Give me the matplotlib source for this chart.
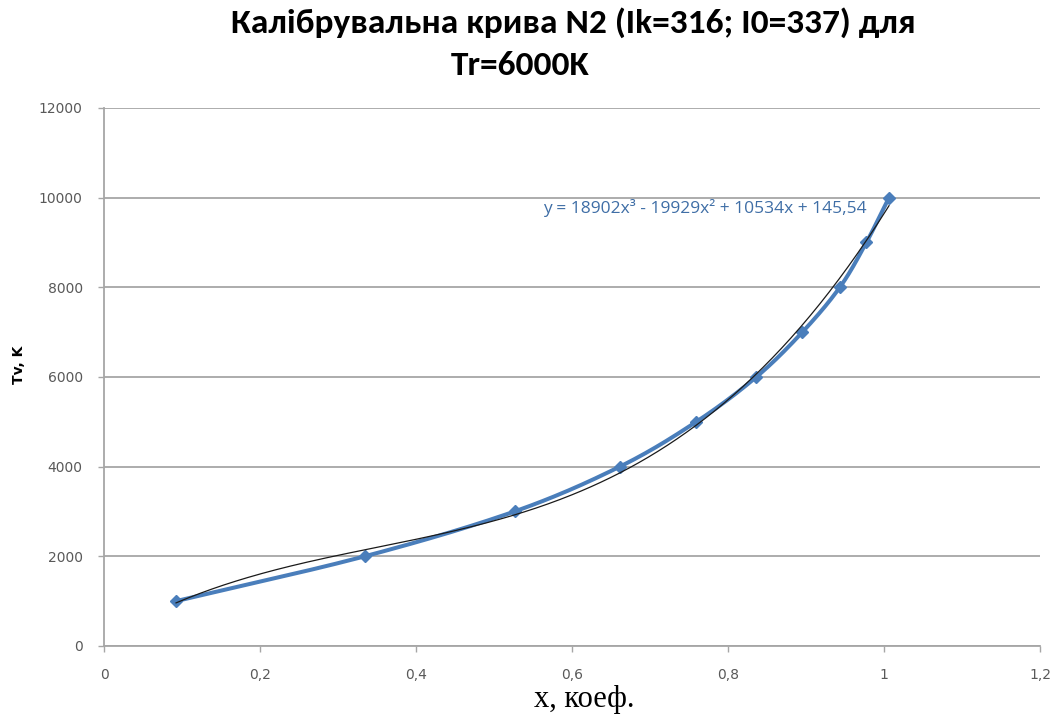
import numpy as np
import matplotlib
matplotlib.use("Agg")
import matplotlib.pyplot as plt
from matplotlib.ticker import FixedLocator, FuncFormatter

# Calibration points: coefficient x versus vibrational temperature Tv
x_coef = [0.092, 0.334, 0.526, 0.661, 0.759, 0.836, 0.895, 0.943, 0.977, 1.006]
tv_k = [1000, 2000, 3000, 4000, 5000, 6000, 7000, 8000, 9000, 10000]

# Cubic trend line coefficients (highest power first)
trend_coefs = [18902, -19929, 10534, 145.54]
trend_label = "y = 18902x³ - 19929x² + 10534x + 145,54"

x_ticks = [0, 0.2, 0.4, 0.6, 0.8, 1.0, 1.2]
y_ticks = [0, 2000, 4000, 6000, 8000, 10000, 12000]

title_line1 = "Калібрувальна крива N2 (Ik=316; I0=337) для"
title_line2 = "Tr=6000K"
x_label = "x, коеф."
y_label = "Tv, K"

SERIES_BLUE = "#4A7EBB"
GRID_GRAY = "#A6A6A6"
TICK_GRAY = "#595959"
TITLE_FONT = ["Carlito", "Liberation Sans Narrow", "Open Sans", "DejaVu Sans"]


def smooth_path(xs, ys, steps=30):
    """Catmull-Rom path through the points, like a spreadsheet 'smoothed line'."""
    p = np.column_stack([xs, ys]).astype(float)
    p = np.vstack([p[0] - (p[1] - p[0]), p, p[-1] + (p[-1] - p[-2])])
    out = []
    t = np.linspace(0, 1, steps, endpoint=False)[:, None]
    for i in range(1, len(p) - 2):
        p0, p1, p2, p3 = p[i - 1], p[i], p[i + 1], p[i + 2]
        seg = 0.5 * ((2 * p1) + (-p0 + p2) * t + (2 * p0 - 5 * p1 + 4 * p2 - p3) * t ** 2
                     + (-p0 + 3 * p1 - 3 * p2 + p3) * t ** 3)
        out.append(seg)
    out.append(p[-2][None, :])
    out = np.vstack(out)
    return out[:, 0], out[:, 1]


fig = plt.figure(figsize=(10.63, 7.16), dpi=100)
ax = fig.add_axes([0.0981, 0.0978, 0.8806, 0.7516])

# series line (smoothed) with diamond markers
sx, sy = smooth_path(x_coef, tv_k)
ax.plot(sx, sy, color=SERIES_BLUE, lw=2.9, solid_capstyle="round", zorder=3)
ax.plot(x_coef, tv_k, linestyle="none", marker="D", ms=6.5,
        color=SERIES_BLUE, mec=SERIES_BLUE, zorder=4)

# polynomial trend line over the data range
tx = np.linspace(min(x_coef), max(x_coef), 300)
ax.plot(tx, np.polyval(trend_coefs, tx), color="#1A1A1A", lw=0.9, zorder=5)

ax.set_xlim(0, 1.2)
ax.set_ylim(0, 12000)
ax.xaxis.set_major_locator(FixedLocator(x_ticks))
ax.yaxis.set_major_locator(FixedLocator(y_ticks))
ax.xaxis.set_major_formatter(FuncFormatter(lambda v, _: f"{v:g}".replace(".", ",")))
ax.yaxis.set_major_formatter(FuncFormatter(lambda v, _: f"{v:.0f}"))

ax.grid(axis="y", color=GRID_GRAY, lw=1.3, zorder=0)
ax.set_axisbelow(True)
for side in ("top", "right"):
    ax.spines[side].set_visible(False)
for side in ("left", "bottom"):
    ax.spines[side].set_color(GRID_GRAY)
    ax.spines[side].set_linewidth(1.3)

ax.tick_params(axis="both", direction="out", length=4.5, width=1.0,
               color=GRID_GRAY, labelcolor=TICK_GRAY, labelsize=10, pad=11)
for lab in ax.get_xticklabels() + ax.get_yticklabels():
    lab.set_family("DejaVu Sans")

# titles and axis labels
fig.text(0.539, 0.9539, title_line1, ha="center", va="baseline",
         fontsize=25.5, fontweight="bold", family=TITLE_FONT)
fig.text(0.489, 0.8953, title_line2, ha="center", va="baseline",
         fontsize=25.5, fontweight="bold", family=TITLE_FONT)
fig.text(0.5494, 0.0126, x_label, ha="center", va="baseline",
         fontsize=22, family=["Liberation Serif", "DejaVu Serif"])
fig.text(0.018, 0.49, y_label, ha="center", va="center", rotation=90,
         fontsize=10, fontweight="bold", family="DejaVu Sans")

# trend line equation
fig.text(0.5108, 0.7025, trend_label, ha="left", va="baseline",
         fontsize=12.5, color="#3F6EA6", family=["Open Sans", "DejaVu Sans"])

fig.savefig("out.png", dpi=100)
